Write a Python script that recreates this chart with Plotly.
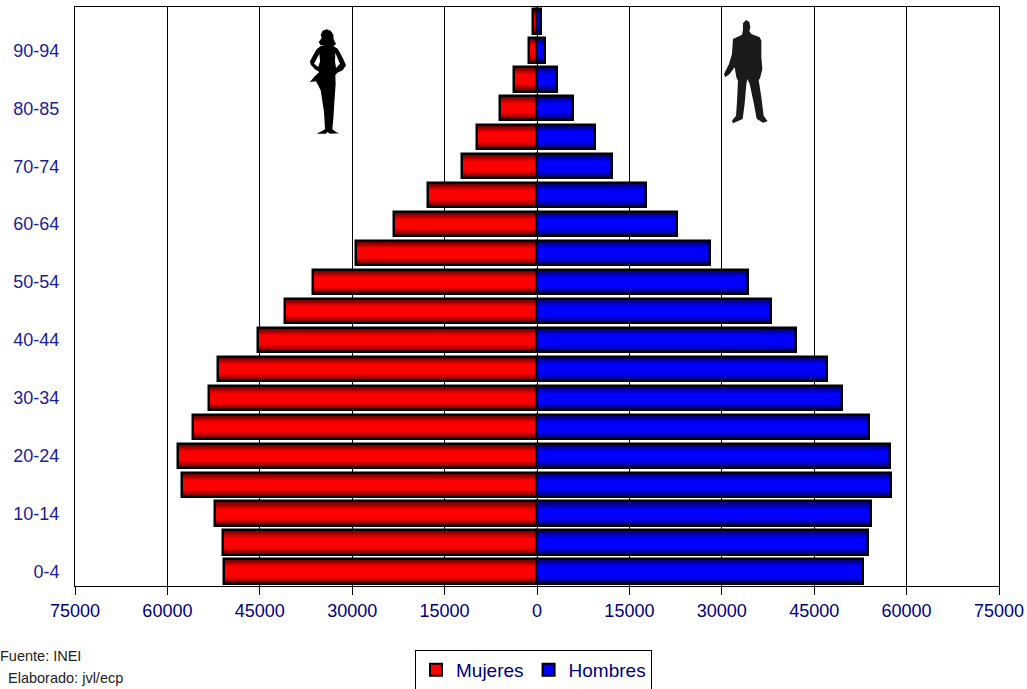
import plotly.graph_objects as go

age_groups = ["0-4", "5-9", "10-14", "15-19", "20-24", "25-29", "30-34", "35-39", "40-44", "45-49",
              "50-54", "55-59", "60-64", "65-69", "70-74", "75-79", "80-85", "85-89", "90-94", "95+"]
shown_age_labels = ["0-4", "10-14", "20-24", "30-34", "40-44", "50-54", "60-64", "70-74", "80-85", "90-94"]
mujeres = [50820, 50990, 52290, 57650, 58290, 55850, 53250, 51800, 45300, 40920,
           36350, 29400, 23250, 17700, 12190, 9750, 6020, 3750, 1310, 680]
hombres = [52920, 53730, 54220, 57470, 57300, 53900, 49500, 47080, 42050, 37990,
           34250, 28080, 22730, 17700, 12180, 9420, 5840, 3250, 1300, 650]
x_tick_values = [-75000, -60000, -45000, -30000, -15000, 0, 15000, 30000, 45000, 60000, 75000]
x_tick_labels = ["75000", "60000", "45000", "30000", "15000", "0", "15000", "30000", "45000", "60000", "75000"]

W, H = 1027, 689
L, R, T, B = 75, 999, 7, 586
FONT = "Liberation Sans"
NAVY = "#000080"
BAR_W = 0.84
LAYERS = 12


def lerp(a, b, t):
    return tuple(round(a[i] + (b[i] - a[i]) * t) for i in range(3))


fig = go.Figure()


def add_series(name, values, edge, centre, group):
    # solid base bar carries the legend entry
    fig.add_trace(go.Bar(y=age_groups, x=values, orientation="h", name=name, width=BAR_W, legendgroup=group,
                         marker=dict(color="rgb(%d,%d,%d)" % centre, line=dict(color="black", width=2)),
                         hoverinfo="skip"))
    # nested bars build the vertical gradient
    for i in range(LAYERS):
        t = i / (LAYERS - 1)
        col = lerp(edge, centre, min(1, t / 0.65))
        w = BAR_W * (1 - i / LAYERS)
        fig.add_trace(go.Bar(y=age_groups, x=values, orientation="h", width=w, showlegend=False, legendgroup=group,
                             marker=dict(color="rgb(%d,%d,%d)" % col, line=dict(width=0)), hoverinfo="skip"))
    # outline on top
    fig.add_trace(go.Bar(y=age_groups, x=values, orientation="h", width=BAR_W, showlegend=False, legendgroup=group,
                         marker=dict(color="rgba(0,0,0,0)", line=dict(color="black", width=2.5)),
                         hovertemplate=name + " %{y}: %{customdata}<extra></extra>",
                         customdata=[abs(v) for v in values]))


add_series("Mujeres", [-v for v in mujeres], (100, 0, 0), (255, 0, 0), "m")
add_series("Hombres", hombres, (0, 0, 110), (0, 0, 255), "h")


def px_x(x):
    return (x - L) / (R - L)


def px_y(y):
    return (B - y) / (B - T)


def silhouette(outer, holes, ox, oy, color):
    def sub(pts):
        return "M" + "L".join("%.4f,%.4f" % (px_x(ox + a / 3), px_y(oy + b / 3)) for a, b in pts) + "Z"
    return dict(type="path", xref="paper", yref="paper", layer="above", line=dict(width=0), fillcolor=color,
                path=sub(outer) + "".join(sub(h) for h in holes))


woman_outer = [(80, 22), (92, 26), (100, 38), (101, 52), (108, 66), (100, 72), (113, 80), (120, 92), (130, 112),
               (138, 130), (128, 145), (112, 152), (106, 160), (107, 185), (103, 240), (100, 290), (97, 322),
               (112, 332), (120, 334), (90, 335), (82, 330), (78, 335), (50, 335), (70, 325), (75, 322),
               (72, 270), (62, 205), (48, 178), (30, 180), (42, 165), (58, 150), (45, 142), (32, 128), (30, 118),
               (42, 95), (50, 82), (62, 72), (75, 72), (62, 70), (56, 60), (65, 48), (62, 38), (68, 26)]
woman_holes = [[(106, 92), (105, 118), (108, 138), (120, 125)], [(58, 95), (42, 125), (55, 135), (60, 118)]]
man_outer = [(84, 18), (94, 24), (97, 40), (94, 52), (100, 60), (125, 70), (130, 80), (130, 130), (133, 165),
             (128, 185), (125, 195), (122, 198), (130, 250), (137, 305), (149, 322), (135, 326), (116, 314),
             (108, 270), (95, 210), (88, 195), (85, 210), (80, 270), (74, 315), (45, 328), (42, 320), (54, 305),
             (57, 260), (60, 200), (55, 190), (50, 160), (35, 180), (22, 190), (18, 180), (33, 150), (42, 120),
             (45, 75), (72, 62), (75, 48), (75, 28)]

fig.update_layout(
    width=W, height=H, margin=dict(l=L, r=W - R, t=T, b=H - B, autoexpand=False),
    barmode="overlay", bargap=0, paper_bgcolor="white", plot_bgcolor="white",
    font=dict(family=FONT, size=18, color=NAVY),
    xaxis=dict(range=[-75000, 75000], tickmode="array", tickvals=x_tick_values, ticktext=x_tick_labels,
               showgrid=True, gridcolor="black", gridwidth=1, zeroline=True, zerolinecolor="black", zerolinewidth=1,
               ticks="outside", ticklen=8, tickcolor="black", tickwidth=1, showline=True, linecolor="black",
               linewidth=1, mirror=True, tickfont=dict(size=18, color=NAVY), fixedrange=True),
    yaxis=dict(type="category", categoryorder="array", categoryarray=age_groups, range=[-0.5, 19.5],
               tickmode="array", tickvals=shown_age_labels, ticktext=shown_age_labels, showgrid=False,
               ticks="", showline=True, linecolor="black", linewidth=1, mirror=True, ticklabelstandoff=11,
               tickfont=dict(size=18, color="#1c1c96"), fixedrange=True),
    legend=dict(orientation="h", x=px_x(415), y=px_y(650), xanchor="left", yanchor="top", bgcolor="white",
                bordercolor="black", borderwidth=1, font=dict(size=19, color=NAVY), itemclick=False,
                itemdoubleclick=False, traceorder="normal"),
    shapes=[silhouette(woman_outer, woman_holes, 300, 22, "black"),
            silhouette(man_outer, [], 718, 14, "#1a1a1a")],
    annotations=[
        dict(text="Fuente: INEI", xref="paper", yref="paper", x=px_x(83), y=px_y(656), xanchor="right",
             yanchor="middle", showarrow=False, font=dict(size=14.5, color="#222222")),
        dict(text="Elaborado: jvl/ecp", xref="paper", yref="paper", x=px_x(125), y=px_y(678), xanchor="right",
             yanchor="middle", showarrow=False, font=dict(size=14.5, color="#222222")),
    ],
)

fig.write_html("out.html", config=dict(displayModeBar=False), post_script="document.body.style.margin='0';")
